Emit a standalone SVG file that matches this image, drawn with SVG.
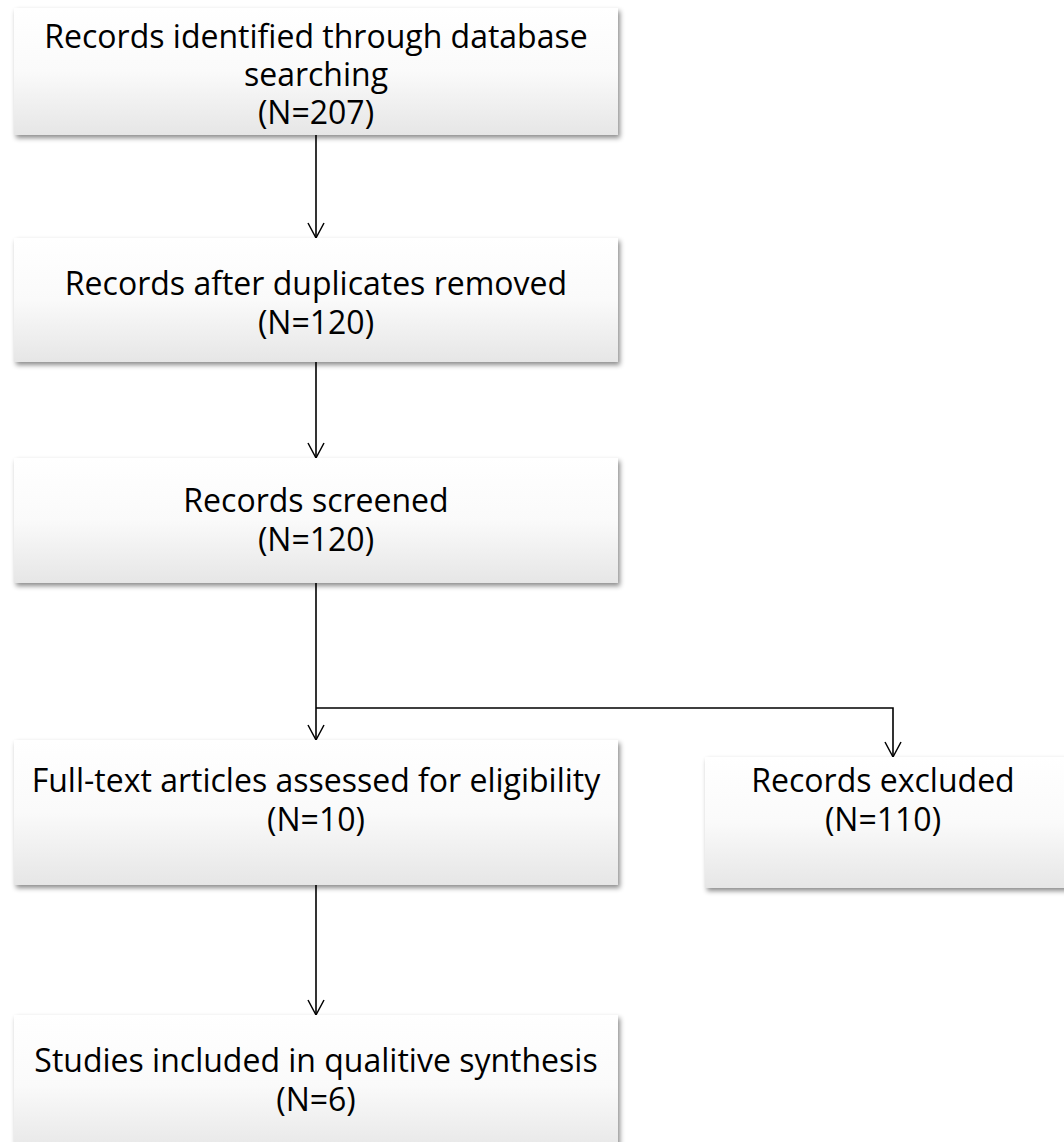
<svg xmlns="http://www.w3.org/2000/svg" width="1064" height="1142" viewBox="0 0 1064 1142">
<defs>
<linearGradient id="g" x1="0" y1="0" x2="0" y2="1">
<stop offset="0" stop-color="#ffffff"/>
<stop offset="0.5" stop-color="#fafafa"/>
<stop offset="1" stop-color="#e6e6e6"/>
</linearGradient>
<filter id="sh" x="-5%" y="-10%" width="115%" height="130%">
<feDropShadow dx="2" dy="3" stdDeviation="2.5" flood-color="#000" flood-opacity="0.45"/>
</filter>
<marker id="arr" markerWidth="20" markerHeight="20" refX="16" refY="9" orient="auto" markerUnits="userSpaceOnUse">
<path d="M1,1 L16,9 L1,17" fill="none" stroke="#000" stroke-width="1.5"/>
</marker>
</defs>
<style>
.box{fill:url(#g);filter:url(#sh);}
.t{font-family:"Open Sans","Liberation Sans",Arial,sans-serif;font-size:32px;fill:#000;text-anchor:middle;}
.c{fill:none;stroke:#000;stroke-width:1.6;}
</style>
<rect width="1064" height="1142" fill="#fff"/>
<g id="connectors">
<path class="c" d="M316,135 V238" marker-end="url(#arr)"/>
<path class="c" d="M316,362 V458" marker-end="url(#arr)"/>
<path class="c" d="M316,583 V740" marker-end="url(#arr)"/>
<path class="c" d="M316,708 H893 V757" marker-end="url(#arr)"/>
<path class="c" d="M316,885 V1015" marker-end="url(#arr)"/>
</g>
<g id="n1">
<rect class="box" x="14" y="8" width="604" height="127"/>
<text class="t" x="316" y="48">Records identified through database</text>
<text class="t" x="316" y="86">searching</text>
<text class="t" x="316" y="124">(N=207)</text>
</g>
<g id="n2">
<rect class="box" x="14" y="238" width="604" height="124"/>
<text class="t" x="316" y="295">Records after duplicates removed</text>
<text class="t" x="316" y="334">(N=120)</text>
</g>
<g id="n3">
<rect class="box" x="14" y="458" width="604" height="125"/>
<text class="t" x="316" y="512">Records screened</text>
<text class="t" x="316" y="551">(N=120)</text>
</g>
<g id="n4">
<rect class="box" x="14" y="740" width="604" height="145"/>
<text class="t" x="316" y="792">Full-text articles assessed for eligibility</text>
<text class="t" x="316" y="831">(N=10)</text>
</g>
<g id="n5">
<rect class="box" x="705" y="757" width="370" height="131"/>
<text class="t" x="883" y="792">Records excluded</text>
<text class="t" x="883" y="831">(N=110)</text>
</g>
<g id="n6">
<rect class="box" x="14" y="1015" width="604" height="140"/>
<text class="t" x="316" y="1072">Studies included in qualitive synthesis</text>
<text class="t" x="316" y="1111">(N=6)</text>
</g>
</svg>
